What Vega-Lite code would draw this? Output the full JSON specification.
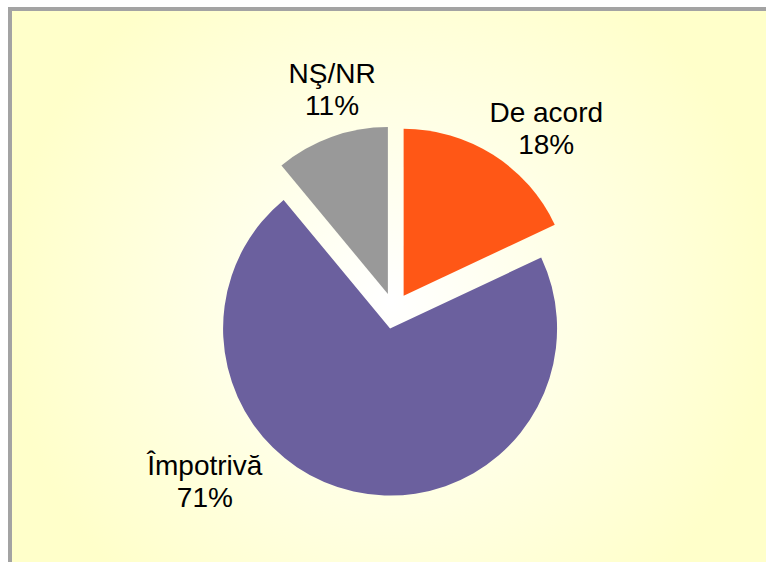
{
  "$schema": "https://vega.github.io/schema/vega-lite/v6.json",
  "width": 754,
  "height": 551,
  "autosize": "none",
  "padding": {"left": 12, "top": 11, "right": 0, "bottom": 0},
  "background": "#ffffff",
  "datasets": {
    "panel": [{"part": "background"}],
    "slices": [
      {"cat": "De acord", "value": 18, "i": 1, "label": "De acord\n18%"},
      {"cat": "Împotrivă", "value": 71, "i": 2, "label": "Împotrivă\n71%"},
      {"cat": "NŞ/NR", "value": 11, "i": 3, "label": "NŞ/NR\n11%"}
    ]
  },
  "layer": [
    {
      "data": {"name": "panel"},
      "mark": {"type": "rect", "fill": null, "stroke": "#a3a3a3", "strokeWidth": 8},
      "encoding": {}
    },
    {
      "data": {"name": "panel"},
      "mark": {
        "type": "rect",
        "strokeWidth": 0,
        "fill": {
          "gradient": "radial",
          "x1": 0.5, "y1": 0.52, "r1": 0,
          "x2": 0.5, "y2": 0.52, "r2": 0.75,
          "stops": [
            {"offset": 0, "color": "#ffffff"},
            {"offset": 0.68, "color": "#ffffca"},
            {"offset": 1, "color": "#ffffca"}
          ]
        }
      },
      "encoding": {}
    },
    {
      "data": {"name": "slices"},
      "mark": {
        "type": "arc",
        "radius": 167,
        "xOffset": {"expr": "5 + 18*sin(PI*(datum.value_start+datum.value_end)/100)"},
        "yOffset": {"expr": "24.5 - 18*cos(PI*(datum.value_start+datum.value_end)/100)"}
      },
      "encoding": {
        "theta": {"field": "value", "type": "quantitative", "stack": true},
        "order": {"field": "i", "type": "quantitative"},
        "color": {
          "field": "cat",
          "type": "nominal",
          "scale": {"domain": ["De acord", "Împotrivă", "NŞ/NR"], "range": ["#ff5716", "#6b609e", "#999999"]},
          "legend": null
        }
      }
    },
    {
      "data": {"name": "slices"},
      "mark": {
        "type": "text",
        "radius": 230,
        "xOffset": 5,
        "yOffset": 24.5,
        "font": "Liberation Sans",
        "fontSize": 28,
        "align": "center",
        "baseline": "alphabetic",
        "lineBreak": "\n",
        "lineHeight": 32,
        "fill": "#000000",
        "dx": {"expr": "datum.i == 1 ? 29 : datum.i == 3 ? 16 : -139"},
        "dy": {"expr": "datum.i == 1 ? 5 : datum.i == 3 ? -12 : -60"}
      },
      "encoding": {
        "theta": {"field": "value", "type": "quantitative", "stack": true},
        "order": {"field": "i", "type": "quantitative"},
        "detail": {"field": "cat", "type": "nominal"},
        "text": {"field": "label", "type": "nominal"}
      }
    }
  ]
}
